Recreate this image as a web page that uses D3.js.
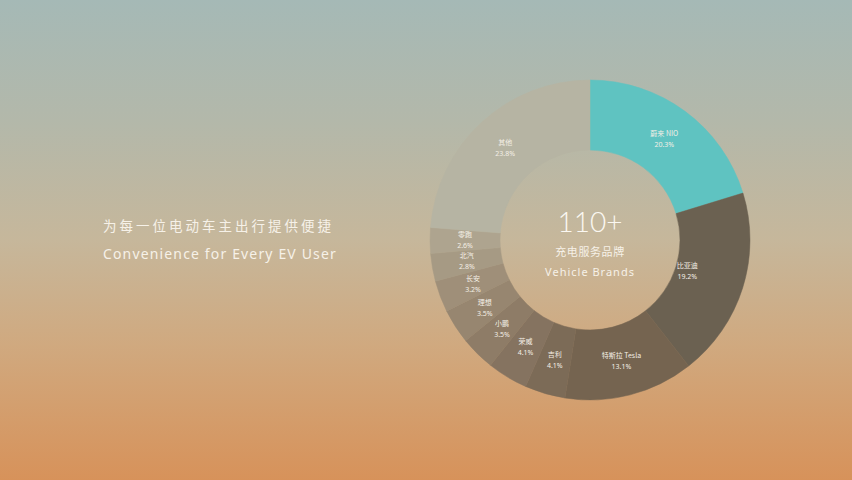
<!DOCTYPE html>
<html><head><meta charset="utf-8">
<script src="https://cdn.jsdelivr.net/npm/d3@7"></script>
<style>
html,body{margin:0;padding:0;width:852px;height:480px;overflow:hidden;}
svg{display:block;}
</style></head>
<body>
<svg id="chart" width="852" height="480"></svg>
<script>
const brands = ["蔚来 NIO","比亚迪","特斯拉 Tesla","吉利","荣威","小鹏","理想","长安","北汽","零跑","其他"];
const shares = [20.3,19.2,13.1,4.1,4.1,3.5,3.5,3.2,2.8,2.6,23.8];
const sliceColors = ["#5fc3c1","#6b6151","#756450","#7c6b57","#857360","#8e7c67","#978670","#9f8f79","#a69a84","#aea48f","#b6b4a3"];
const centerBig = "110+";
const centerZh = "充电服务品牌";
const centerEn = "Vehicle Brands";
const leftZh = "为每一位电动车主出行提供便捷";
const leftEn = "Convenience for Every EV User";

const svg = d3.select("#chart");
const defs = svg.append("defs");
const bg = defs.append("linearGradient").attr("id","bg").attr("x1",0).attr("y1",0).attr("x2",0).attr("y2",1);
[[0,"#a5b9b6"],[0.25,"#b3b8aa"],[0.5,"#c6b79b"],[0.72,"#d0a97f"],[1,"#d7925a"]].forEach(s=>bg.append("stop").attr("offset",s[0]).attr("stop-color",s[1]));
svg.append("rect").attr("width",852).attr("height",480).attr("fill","url(#bg)");

const data = brands.map((b,i)=>({name:b,value:shares[i],color:sliceColors[i]}));
const cx = 590, cy = 240, rOuter = 160, rInner = 90;
const pie = d3.pie().value(d=>d.value).sort(null);
const arc = d3.arc().innerRadius(rInner).outerRadius(rOuter);
const g = svg.append("g").attr("transform",`translate(${cx},${cy})`);
const arcs = pie(data);
g.selectAll("path").data(arcs).join("path")
  .attr("d",arc).attr("fill",d=>d.data.color)
  .attr("stroke",d=>d.data.color).attr("stroke-width",0.5);

const labelR = d => d.index === 1 ? 102 : 125;
const lab = g.selectAll("g.lab").data(arcs).join("g").attr("class","lab")
  .attr("transform",d=>{const a=(d.startAngle+d.endAngle)/2;const r=labelR(d);return `translate(${r*Math.sin(a)},${-r*Math.cos(a)})`;});
lab.append("text").attr("y",-3).attr("text-anchor","middle")
  .attr("font-family","'Noto Sans CJK SC','Noto Sans',sans-serif").attr("font-size",7)
  .attr("fill","#f4efe6").text(d=>d.data.name);
lab.append("text").attr("y",8).attr("text-anchor","middle")
  .attr("font-family","'Noto Sans','Noto Sans CJK SC',sans-serif").attr("font-size",7)
  .attr("fill","#f4efe6").text(d=>d.data.value.toFixed(1)+"%");

g.append("text").attr("y",-8).attr("text-anchor","middle")
  .attr("font-family","Lato,'Noto Sans',sans-serif").attr("font-weight",300).attr("font-size",28)
  .attr("fill","#fbf8f2").text(centerBig);
g.append("text").attr("y",16).attr("text-anchor","middle")
  .attr("font-family","'Noto Sans CJK SC',sans-serif").attr("font-size",11).attr("letter-spacing",0.6)
  .attr("fill","#f6f1e8").text(centerZh);
g.append("text").attr("y",36).attr("text-anchor","middle")
  .attr("font-family","'Noto Sans',sans-serif").attr("font-size",11).attr("letter-spacing",1)
  .attr("fill","#f6f1e8").text(centerEn);

svg.append("text").attr("x",103).attr("y",231)
  .attr("font-family","'Noto Sans CJK SC',sans-serif").attr("font-size",13.5).attr("letter-spacing",3)
  .attr("fill","#f6f1e8").text(leftZh);
svg.append("text").attr("x",103).attr("y",259)
  .attr("font-family","'Noto Sans',sans-serif").attr("font-size",14).attr("letter-spacing",1.15)
  .attr("fill","#f6f1e8").text(leftEn);
</script>
</body></html>
